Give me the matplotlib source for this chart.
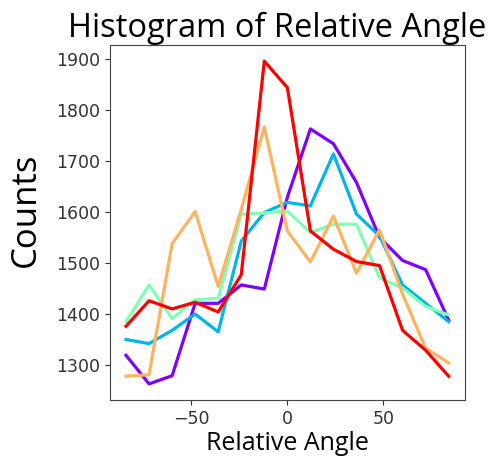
import matplotlib
matplotlib.use("Agg")
import matplotlib.pyplot as plt
import numpy as np

# bin centres (degrees) and counts per series
angles = [-84, -72, -60, -48, -36, -24, -12, 0, 12, 24, 36, 48, 60, 72, 84]

purple = [1318, 1262, 1278, 1420, 1420, 1456, 1448, 1628, 1762, 1733, 1657, 1549, 1504, 1486, 1387]
blue = [1349, 1341, 1367, 1399, 1364, 1542, 1598, 1618, 1611, 1713, 1595, 1552, 1456, 1420, 1384]
mint = [1384, 1456, 1390, 1427, 1430, 1595, 1597, 1601, 1559, 1575, 1575, 1470, 1450, 1414, 1397]
orange = [1277, 1280, 1537, 1600, 1453, 1604, 1766, 1562, 1501, 1591, 1479, 1564, 1438, 1332, 1303]
red = [1375, 1425, 1409, 1422, 1403, 1476, 1895, 1843, 1562, 1526, 1502, 1494, 1367, 1328, 1277]

series = [purple, blue, mint, orange, red]
colors = plt.cm.rainbow(np.linspace(0, 1, len(series)))

label_font = "Open Sans"

fig = plt.figure(figsize=(4.95, 4.59), dpi=100)
ax = fig.add_axes([0.222, 0.1285, 0.717, 0.7735])

for counts, c in zip(series, colors):
    ax.plot(angles, counts, color=c, lw=2.3)

ax.set_yticks([1300, 1400, 1500, 1600, 1700, 1800, 1900])
ax.set_xticks([-50, 0, 50])
ax.tick_params(labelsize=12.5, colors="#333333")
for sp in ax.spines.values():
    sp.set_color("#444444")

ax.set_xlabel("Relative Angle", fontsize=18, family=label_font, labelpad=2)
ax.set_ylabel("Counts", fontsize=25, family=label_font)
ax.yaxis.set_label_coords(-0.19, 0.535)
ax.set_title("Histogram of Relative Angle", fontsize=23.5, family=label_font,
             x=0.47, pad=1)

fig.savefig("out.png", dpi=100)
